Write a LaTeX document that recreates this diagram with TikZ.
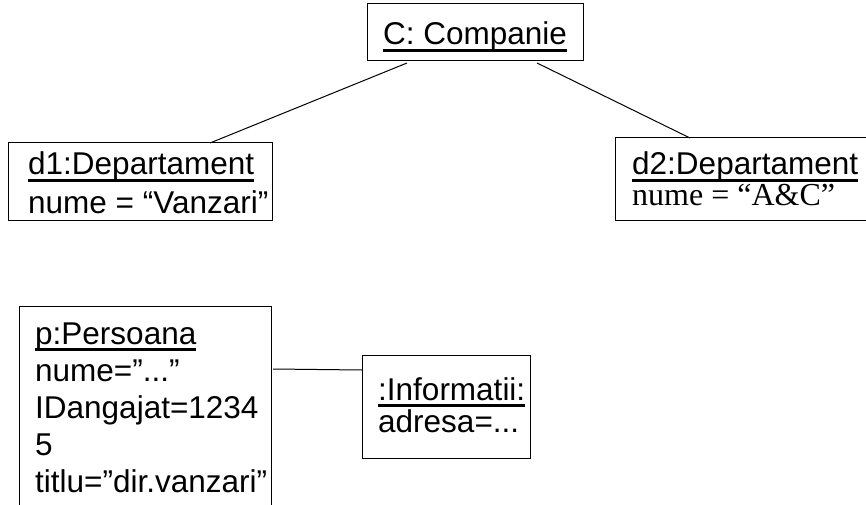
\documentclass[tikz,border=0pt]{standalone}
\usepackage{fontspec}
\setmainfont{Liberation Sans}
\newfontfamily\serifattr{Liberation Serif}
\usetikzlibrary{calc}
% underlined object name, as in UML object diagrams
\newcommand\objname[1]{\setbox0=\hbox{#1}\rlap{\rule[-6.8pt]{\wd0}{2.8pt}}\box0}
\tikzset{
  objbox/.style={draw, line width=1pt, inner sep=0pt, outer sep=0pt, anchor=north west},
  txt/.style={anchor=base west, inner sep=0pt, font=\fontsize{31.5}{36}\selectfont},
  serif txt/.style={anchor=base west, inner sep=0pt, font=\fontsize{32}{36}\serifattr},
  link/.style={line width=1pt}
}
\begin{document}
\begin{tikzpicture}[x=1pt,y=-1pt]
\clip (0,0) rectangle (866,505);
\fill[white] (0,0) rectangle (866,505);
% object boxes
\node[objbox, minimum width=216pt, minimum height=57pt] (c) at (367,4) {};
\node[objbox, minimum width=264pt, minimum height=77pt] (d1) at (8,143) {};
\node[objbox, minimum width=285pt, minimum height=82pt] (d2) at (615,138) {};
\node[objbox, minimum width=252pt, minimum height=234pt] (p) at (19,306) {};
\node[objbox, minimum width=168pt, minimum height=103pt] (inf) at (362,355) {};
% box contents
\node[txt] (ct) at (383,45) {\objname{C: Companie}};
\node[txt] (d1a) at (28,175) {\objname{d1:Departament}};
\node[txt] (d1b) at (28,213) {nume = “Vanzari”};
\node[txt] (d2a) at (632,175) {\objname{d2:Departament}};
\node[serif txt] (d2b) at (632,205) {nume = “A\&C”};
\node[txt] (pa) at (35,344) {\objname{p:Persoana}};
\node[txt] (pb) at (35,381) {nume=”...”};
\node[txt] (pc) at (35,418) {IDangajat=1234};
\node[txt] (pd) at (35,455) {5};
\node[txt] (pe) at (35,492) {titlu=”dir.vanzari”};
\node[txt] (ia) at (378,400) {\objname{:Informatii:}};
\node[txt] (ib) at (378,432) {adresa=...};
% links
\draw[link] ($(c.south west)+(40,2)$) -- ($(d1.north west)+(202,0)$);
\draw[link] ($(c.south west)+(170,2)$) -- ($(d2.north west)+(75,0)$);
\draw[link] ($(p.north east)+(2,63)$) -- ($(inf.north west)+(0,15)$);
\end{tikzpicture}
\end{document}
